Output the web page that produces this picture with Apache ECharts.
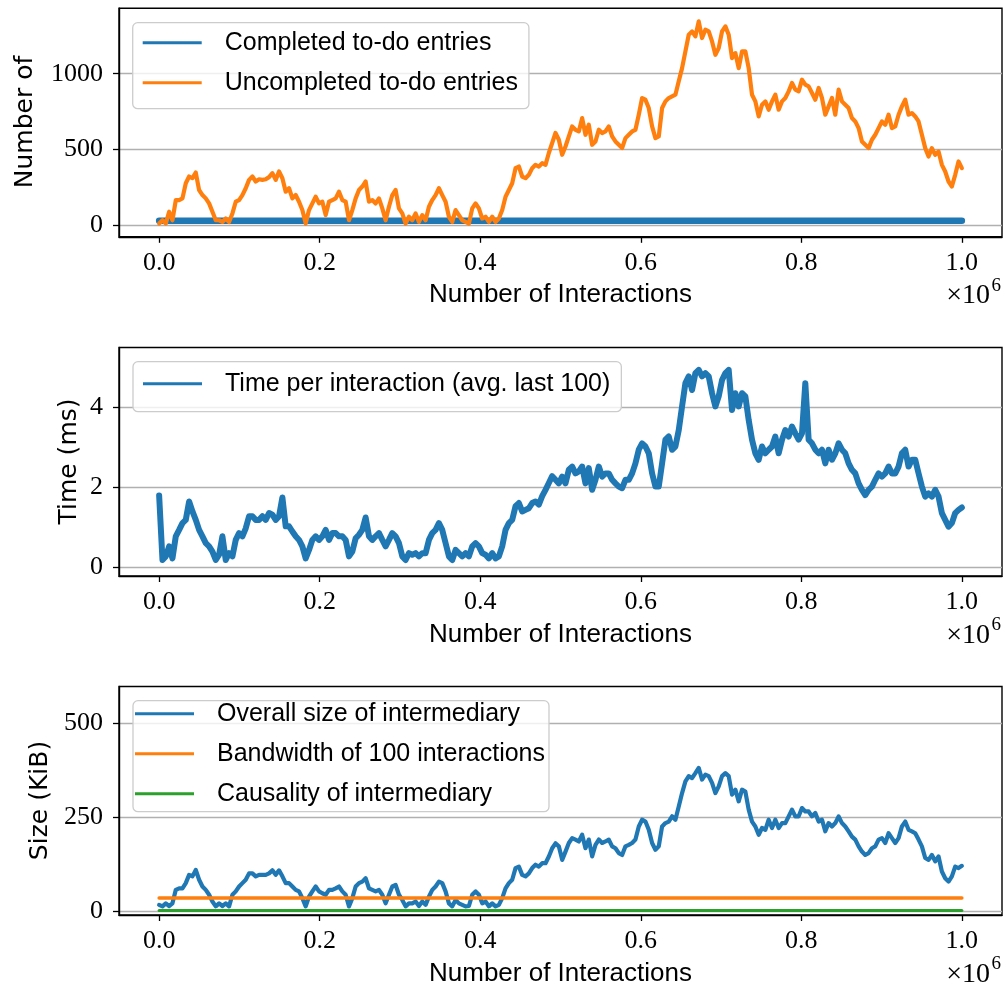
<!DOCTYPE html>
<html>
<head>
<meta charset="utf-8">
<script src="https://cdn.jsdelivr.net/npm/echarts@6/dist/echarts.min.js"></script>
<style>html,body{margin:0;padding:0;background:#fff}#c{width:1006px;height:994px}</style>
</head>
<body>
<div id="c"></div>
<script>
// ---------- data ----------
const SAMPLE_STEP = 1000000 / 241;           // regular sampling of the interaction axis
const xTickValues = [0, 200000, 400000, 600000, 800000, 1000000];
const countTicks = [0, 500, 1000];
const timeTicks = [0, 2, 4];
const sizeTicks = [0, 250, 500];

const coarseX = [0, 100000, 200000, 300000, 400000, 500000, 600000, 700000, 800000, 900000, 1000000];
const completedEntries = [32, 32, 32, 32, 32, 32, 32, 32, 32, 32, 32];
const bandwidthOf100 = [34, 34, 34, 34, 34, 34, 34, 34, 34, 34, 34];
const causalityOfIntermediary = [1, 1, 1, 1, 1, 1, 1, 1, 1, 1, 1];

const uncompletedEntries = [
 13,35,13,91,35,168,168,179,279,323,
 312,349,234,201,179,146,91,35,35,24,
 46,24,80,157,168,201,246,301,323,290,
 305,301,305,319,345,301,356,312,223,246,
 179,201,157,102,13,102,146,190,146,157,
 69,157,168,179,223,168,157,35,102,179,
 234,257,290,157,168,146,179,113,35,124,
 201,234,113,80,13,58,35,80,24,69,
 35,124,168,201,246,201,157,58,24,102,
 69,35,24,13,113,146,113,46,58,24,
 58,24,46,102,190,234,279,378,389,323,
 312,334,378,400,389,411,400,478,544,610,
 565,466,521,587,653,631,620,708,598,664,
 532,554,631,609,620,653,587,554,532,510,
 576,598,620,631,730,840,829,774,653,576,
 587,774,818,840,851,862,950,1037,1147,1257,
 1279,1246,1345,1235,1290,1279,1213,1125,1169,1279,
 1312,1257,1103,1136,1037,1147,1147,1037,862,818,
 719,796,818,763,818,862,763,818,840,884,
 939,895,884,961,928,917,873,829,906,840,
 730,785,840,730,895,818,796,774,708,686,
 642,554,532,510,565,598,642,686,664,730,
 642,653,730,785,829,730,741,719,686,598,
 510,455,510,466,488,400,356,290,257,334,
 422,378
];

const timePerInteraction = [
 1.80,0.19,0.28,0.53,0.23,0.78,0.94,1.11,1.19,1.65,
 1.40,1.19,0.94,0.78,0.61,0.53,0.40,0.19,0.32,0.78,
 0.19,0.36,0.28,0.69,0.86,0.78,0.98,1.28,1.28,1.19,
 1.19,1.28,1.19,1.36,1.32,1.19,1.28,1.75,1.03,1.03,
 0.90,0.78,0.69,0.53,0.23,0.44,0.69,0.78,0.69,0.78,
 0.94,0.69,0.86,0.86,0.78,0.78,0.69,0.28,0.40,0.73,
 0.82,0.94,1.25,0.78,0.69,0.78,0.86,0.69,0.53,0.69,
 0.86,0.78,0.61,0.28,0.19,0.36,0.32,0.36,0.28,0.36,
 0.36,0.69,0.86,0.94,1.11,0.94,0.61,0.28,0.19,0.44,
 0.36,0.28,0.36,0.28,0.53,0.61,0.53,0.36,0.32,0.23,
 0.36,0.23,0.28,0.53,0.94,1.11,1.19,1.53,1.61,1.40,
 1.44,1.48,1.61,1.65,1.57,1.78,1.94,2.11,2.28,2.19,
 2.10,2.27,2.10,2.44,2.52,2.35,2.40,2.52,2.10,2.48,
 1.94,2.19,2.52,2.27,2.35,2.35,2.19,2.10,2.02,1.98,
 2.19,2.19,2.35,2.60,2.94,3.10,3.02,2.85,2.35,2.02,
 2.02,2.60,3.19,3.27,2.94,3.02,3.43,4.02,4.60,4.77,
 4.43,4.85,4.93,4.77,4.85,4.77,4.35,4.02,4.27,4.68,
 4.85,4.93,3.93,4.35,4.02,4.35,4.27,3.68,3.19,2.85,
 2.69,3.02,2.85,2.94,3.02,3.27,2.85,3.19,3.43,3.27,
 3.52,3.35,3.19,3.35,4.60,3.19,3.10,2.94,2.85,2.94,
 2.60,2.94,2.69,2.85,3.10,2.94,2.85,2.60,2.44,2.35,
 2.10,1.94,1.81,1.94,2.02,2.19,2.35,2.27,2.35,2.52,
 2.35,2.35,2.52,2.85,2.94,2.52,2.69,2.69,2.35,2.02,
 1.77,1.85,1.77,1.94,1.77,1.36,1.19,1.02,1.11,1.36,
 1.44,1.50
];

const overallSize = [
 16,12,20,13,20,56,60,60,74,96,
 92,109,83,65,56,43,25,12,20,13,
 20,12,43,52,65,74,83,100,100,92,
 96,96,96,100,108,96,108,92,74,74,
 65,56,52,34,12,38,52,65,52,47,
 43,56,56,60,65,52,43,12,34,65,
 74,78,87,60,56,52,56,43,20,43,
 65,69,43,29,12,20,20,25,13,25,
 16,38,56,65,78,74,52,20,12,29,
 20,16,12,13,43,52,43,20,25,12,
 20,12,16,34,60,74,83,114,118,96,
 92,100,114,123,118,127,127,145,167,180,
 172,136,158,181,194,190,185,203,167,190,
 145,176,190,181,185,190,172,167,154,149,
 172,176,181,190,225,243,238,216,181,163,
 172,225,234,238,252,243,278,314,345,359,
 354,367,381,350,363,359,341,314,332,359,
 367,359,310,323,292,323,318,270,238,225,
 203,221,216,243,221,243,221,234,234,252,
 270,252,252,274,265,265,252,261,238,243,
 212,234,225,234,252,234,225,212,198,190,
 172,158,149,154,167,172,190,194,181,207,
 194,181,194,225,238,216,212,207,190,172,
 141,136,149,132,145,105,87,78,92,118,
 114,120
];

// ---------- chart ----------
const C_BLUE = '#1f77b4', C_ORANGE = '#ff7f0e', C_GREEN = '#2ca02c';
const regular = arr => arr.map((v, i) => [i * SAMPLE_STEP, v]);
const coarse = arr => arr.map((v, i) => [coarseX[i], v]);

const GRID_LEFT = 119, GRID_W = 883, GRID_H = 228.5;
const gridTops = [8.3, 347.5, 686.5];
const yRanges = [[-74, 1431], [-0.21, 5.49], [-11, 598]];
const yTickSets = [countTicks, timeTicks, sizeTicks];

const tickFont = {fontFamily: 'Liberation Serif', fontSize: 26, color: '#000'};

const grids = gridTops.map(t => ({left: GRID_LEFT, top: t, width: GRID_W, height: GRID_H,
  show: true, borderColor: '#000', borderWidth: 1.4, backgroundColor: 'transparent', containLabel: false}));

const xAxes = gridTops.map((t, k) => ({
  type: 'value', gridIndex: k, min: -50000, max: 1050000,
  axisLine: {show: true, onZero: false, lineStyle: {color: '#000', width: 1.4}},
  axisTick: {show: true, inside: false, length: 6, lineStyle: {color: '#000', width: 1.3}, customValues: xTickValues},
  axisLabel: Object.assign({show: true, margin: 13, lineHeight: 26, customValues: xTickValues,
    formatter: v => (v / 1e6).toFixed(1)}, tickFont),
  splitLine: {show: false}
}));

const yAxes = gridTops.map((t, k) => ({
  type: 'value', gridIndex: k, min: yRanges[k][0], max: yRanges[k][1],
  axisLine: {show: true, onZero: false, lineStyle: {color: '#000', width: 1.4}},
  axisTick: {show: true, inside: false, length: 6, lineStyle: {color: '#000', width: 1.3}, customValues: yTickSets[k]},
  axisLabel: Object.assign({show: true, margin: 16, customValues: yTickSets[k], formatter: v => String(v)}, tickFont),
  splitLine: {show: true, lineStyle: {color: '#b0b0b0', width: 1.3}}
}));

const lineSeries = (name, k, data, color, width) => ({
  name, type: 'line', xAxisIndex: k, yAxisIndex: k, data, symbol: 'none', showSymbol: false,
  silent: true, animation: false, clip: true,
  lineStyle: {color, width, join: 'round', cap: 'round'}, itemStyle: {color}
});

const series = [
  lineSeries('Completed to-do entries', 0, coarse(completedEntries), C_BLUE, 6.5),
  lineSeries('Uncompleted to-do entries', 0, regular(uncompletedEntries), C_ORANGE, 4.2),
  lineSeries('Time per interaction (avg. last 100)', 1, regular(timePerInteraction), C_BLUE, 6),
  lineSeries('Overall size of intermediary', 2, regular(overallSize), C_BLUE, 4.2),
  lineSeries('Bandwidth of 100 interactions', 2, coarse(bandwidthOf100), C_ORANGE, 3.5),
  lineSeries('Causality of intermediary', 2, coarse(causalityOfIntermediary), C_GREEN, 3)
];

const legendBase = (left, top, names, padding, lineHeight, gap) => ({
  orient: 'vertical', left, top, data: names, padding, itemGap: gap,
  icon: 'rect', itemWidth: 59, itemHeight: 3, selectedMode: false,
  backgroundColor: 'rgba(255,255,255,0.8)', borderColor: '#cccccc', borderWidth: 1.3, borderRadius: 5,
  textStyle: {fontFamily: 'Liberation Sans', fontSize: 25, color: '#000', lineHeight, padding: [0, 0, 0, 18]}
});

const legends = [
  legendBase(132.7, 22.7, ['Completed to-do entries', 'Uncompleted to-do entries'], [5, 11, 11, 10], 30, 10),
  legendBase(133, 361.7, ['Time per interaction (avg. last 100)'], [7, 11, 13, 10], 30, 10),
  legendBase(133, 700.7, ['Overall size of intermediary', 'Bandwidth of 100 interactions', 'Causality of intermediary'], [0, 4, 5, 2], 26, 14)
];

const axisBottoms = gridTops.map(t => t + GRID_H);
const graphics = [];
const yLabels = [['Number of', 25, 122], ['Time (ms)', 69, 461.5], ['Size (KiB)', 40, 800.5]];
yLabels.forEach(([txt, x, y]) => graphics.push({type: 'text', x, y, rotation: Math.PI / 2, silent: true,
  style: {text: txt, fontFamily: 'DejaVu Sans', fontSize: 25, fill: '#000', align: 'center', verticalAlign: 'middle'}}));
axisBottoms.forEach(b => {
  graphics.push({type: 'text', x: GRID_LEFT + GRID_W / 2, y: b + 58.5, silent: true,
    style: {text: 'Number of Interactions', fontFamily: 'Liberation Sans', fontSize: 26, fill: '#000', align: 'center', verticalAlign: 'middle'}});
  graphics.push({type: 'text', x: 990, y: b + 59.3, silent: true,
    style: {text: '×10', fontFamily: 'Liberation Serif', fontSize: 28, fill: '#000', align: 'right', verticalAlign: 'middle'}});
  graphics.push({type: 'text', x: 991.5, y: b + 48.8, silent: true,
    style: {text: '6', fontFamily: 'Liberation Serif', fontSize: 19, fill: '#000', align: 'left', verticalAlign: 'middle'}});
});

const chart = echarts.init(document.getElementById('c'), null, {renderer: 'canvas'});
chart.setOption({
  animation: false,
  backgroundColor: '#fff',
  grid: grids,
  xAxis: xAxes,
  yAxis: yAxes,
  legend: legends,
  series,
  graphic: graphics
});
</script>
</body>
</html>
